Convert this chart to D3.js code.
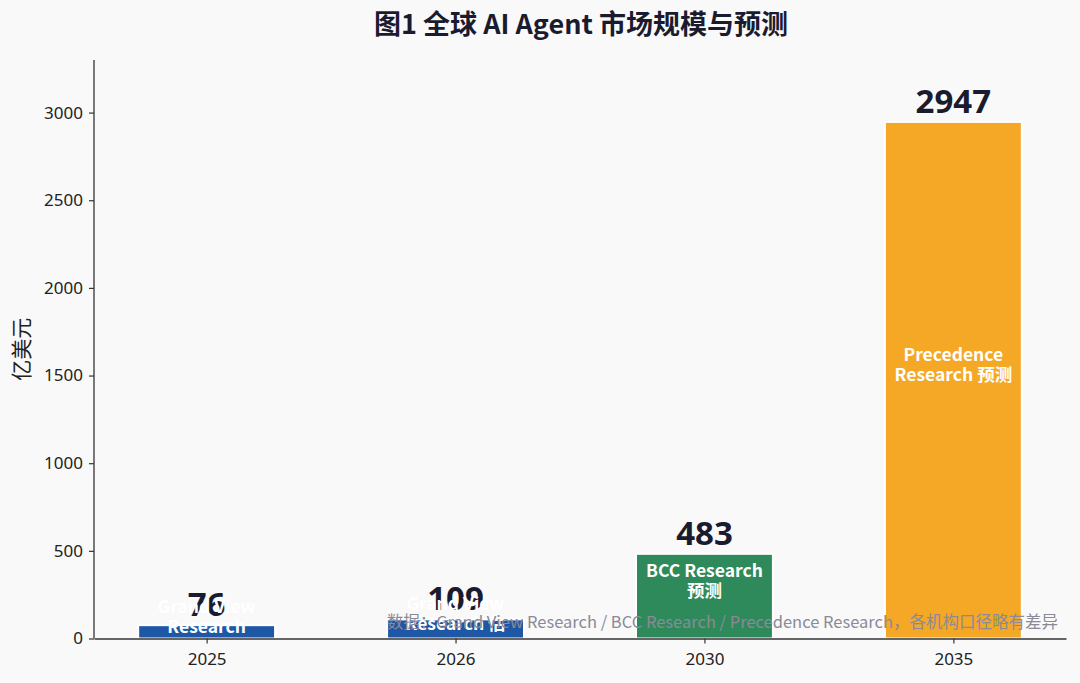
<!DOCTYPE html>
<html>
<head>
<meta charset="utf-8">
<script src="https://cdn.jsdelivr.net/npm/d3@7"></script>
<style>
html,body{margin:0;padding:0;background:#f9f9f9;}
svg{display:block;font-family:"Noto Sans","Noto Sans CJK SC",sans-serif;}
</style>
</head>
<body>
<svg id="chart" width="1080" height="683"></svg>
<script>
const years = ["2025", "2026", "2030", "2035"];
const values = [76, 109, 483, 2947];
const sources = [["Grand View", "Research"], ["Grand View", "Research 估"], ["BCC Research", "预测"], ["Precedence", "Research 预测"]];
const colors = ["#1d57a6", "#1d57a6", "#2e8a5a", "#f5a726"];
const yTicks = [0, 500, 1000, 1500, 2000, 2500, 3000];
const title = "图1 全球 AI Agent 市场规模与预测";
const yLabel = "亿美元";
const note = "数据：Grand View Research / BCC Research / Precedence Research，各机构口径略有差异";

const svg = d3.select("#chart");
const mLeft = 94, mRight = 1066, mTop = 60, mBottom = 638.5;
const barW = 0.55;
const x = d3.scaleLinear().domain([-0.4525, 3.4525]).range([mLeft, mRight]);
const y = d3.scaleLinear().domain([0, 3300]).range([mBottom, mTop]);

// title
svg.append("text").attr("x", (mLeft + mRight) / 2 + 1).attr("y", 34)
  .attr("text-anchor", "middle").attr("font-size", 27).attr("font-weight", "bold")
  .attr("fill", "#1b1b2f").attr("font-family", "'Noto Sans CJK SC',sans-serif").text(title);

// bars
svg.append("g").selectAll("rect").data(values).join("rect")
  .attr("x", (d, i) => x(i - barW / 2)).attr("width", x(barW) - x(0))
  .attr("y", d => y(d)).attr("height", d => y(0) - y(d))
  .attr("fill", (d, i) => colors[i]).attr("stroke", "#ffffff").attr("stroke-width", 2);

// value labels
svg.append("g").selectAll("text").data(values).join("text")
  .attr("x", (d, i) => x(i)).attr("y", d => y(d) - 9)
  .attr("text-anchor", "middle").attr("font-size", 33).attr("font-weight", "bold")
  .attr("fill", "#1b1b2f").text(d => d);

// inner labels
const inner = svg.append("g");
values.forEach((v, i) => {
  const cy = y(v / 2) - 15;
  const t = inner.append("text").attr("x", x(i)).attr("text-anchor", "middle")
    .attr("font-size", 17.5).attr("font-weight", "bold").attr("fill", "#ffffff")
    .attr("font-family", "'Noto Sans CJK SC',sans-serif");
  sources[i].forEach((line, k) => {
    t.append("tspan").attr("x", x(i)).attr("y", cy + (k - 0.5) * 20 + 6).text(line);
  });
});

// axes
const yAxis = d3.axisLeft(y).tickValues(yTicks).tickFormat(d3.format("d")).tickSize(5).tickPadding(6).tickSizeOuter(0);
const gy = svg.append("g").attr("transform", `translate(${mLeft},0)`).call(yAxis);
gy.select(".domain").attr("d", `M0,${mTop}V${mBottom}`);
const xAxis = d3.axisBottom(x).tickValues(d3.range(years.length)).tickFormat(i => years[i]).tickSize(5).tickPadding(9).tickSizeOuter(0);
const gx = svg.append("g").attr("transform", `translate(0,${mBottom})`).call(xAxis);
[gx, gy].forEach(g => {
  g.select(".domain").attr("stroke", "#333").attr("stroke-width", 1.3);
  g.selectAll(".tick line").attr("stroke", "#333").attr("stroke-width", 1.2);
  g.selectAll(".tick text").attr("font-size", 17).attr("fill", "#222")
    .attr("font-family", "'Noto Sans',sans-serif");
});

// y label
svg.append("text").attr("transform", `translate(29,${(mTop + mBottom) / 2}) rotate(-90)`)
  .attr("text-anchor", "middle").attr("font-size", 21).attr("fill", "#222")
  .attr("font-family", "'Noto Sans CJK SC',sans-serif").text(yLabel);

// note
svg.append("text").attr("x", 1058).attr("y", 628).attr("text-anchor", "end")
  .attr("font-size", 16.5).attr("fill", "#8a8a98")
  .attr("font-family", "'Noto Sans CJK SC',sans-serif").text(note);
</script>
</body>
</html>
